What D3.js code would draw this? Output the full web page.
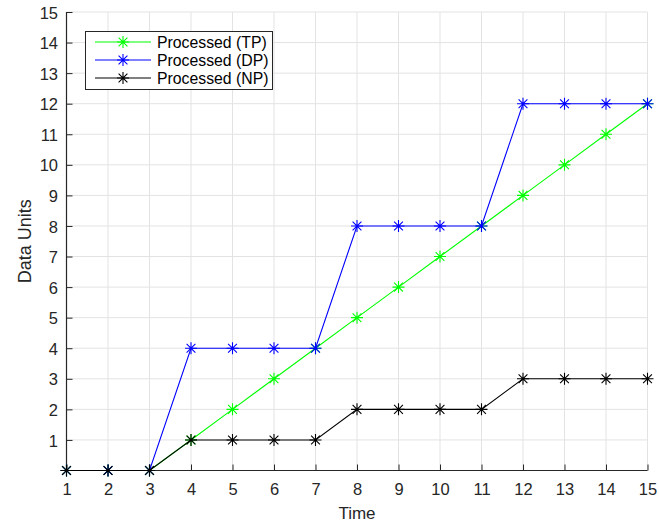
<!DOCTYPE html>
<html><head><meta charset="utf-8">
<script src="https://cdn.jsdelivr.net/npm/d3@7"></script>
<style>body{margin:0;background:#fff}svg{display:block}text{font-family:"Liberation Sans",Arial,sans-serif}</style>
</head><body>
<svg id="c" width="659" height="523"></svg>
<script>
const times = [1,2,3,4,5,6,7,8,9,10,11,12,13,14,15];
const seriesNames = ["Processed (TP)", "Processed (DP)", "Processed (NP)"];
const tpValues = [0,0,0,1,2,3,4,5,6,7,8,9,10,11,12];
const dpValues = [0,0,0,4,4,4,4,8,8,8,8,12,12,12,12];
const npValues = [0,0,0,1,1,1,1,2,2,2,2,3,3,3,3];
const seriesColors = ["#00ff00", "#0000ff", "#000000"];
const xTicks = [1,2,3,4,5,6,7,8,9,10,11,12,13,14,15];
const yTicks = [1,2,3,4,5,6,7,8,9,10,11,12,13,14,15];

const svg = d3.select("#c");
const L = 66.5, R = 647.5, T = 12, B = 470.5;
const x = d3.scaleLinear().domain([1,15]).range([L,R]);
const y = d3.scaleLinear().domain([0,15]).range([B,T]);
const axisCol = "#262626";

// grid
const g = svg.append("g");
g.selectAll(".gx").data(xTicks).enter().append("line")
  .attr("x1", d=>x(d)).attr("x2", d=>x(d)).attr("y1", T).attr("y2", B)
  .attr("stroke", "#e3e3e3").attr("stroke-width", 1);
g.selectAll(".gy").data(yTicks).enter().append("line")
  .attr("y1", d=>y(d)).attr("y2", d=>y(d)).attr("x1", L).attr("x2", R)
  .attr("stroke", "#e3e3e3").attr("stroke-width", 1);

// axes
const xAxis = d3.axisBottom(x).tickValues(xTicks).tickSize(-6).tickPadding(13).tickFormat(d3.format("d"));
const yAxis = d3.axisLeft(y).tickValues(yTicks).tickSize(-6).tickPadding(8.5).tickFormat(d3.format("d"));
const gx = svg.append("g").attr("transform", `translate(0,${B})`).call(xAxis);
const gy = svg.append("g").attr("transform", `translate(${L},0)`).call(yAxis);
[gx, gy].forEach(a => {
  a.select(".domain").attr("stroke", axisCol).attr("stroke-width", 1.2);
  a.selectAll(".tick line").attr("stroke", axisCol).attr("stroke-width", 1);
  a.selectAll(".tick text").attr("fill", axisCol).style("font-size", "16.5px")
   .style("font-family", '"Liberation Sans", Arial, sans-serif');
});
gx.select(".domain").attr("d", `M${L},0H${R}`);
gy.select(".domain").attr("d", `M0,${B}V${T}`);
gy.selectAll(".tick text").attr("dy", "0.37em");

// labels
svg.append("text").attr("x", (L+R)/2).attr("y", 519).attr("text-anchor", "middle")
  .attr("fill", axisCol).style("font-size", "17px").text("Time");
svg.append("text").attr("transform", `translate(31,${(T+B)/2}) rotate(-90)`).attr("text-anchor", "middle")
  .attr("fill", axisCol).style("font-size", "18px").text("Data Units");

// series
const allValues = [tpValues, dpValues, npValues];
const line = d3.line().x((d,i)=>x(times[i])).y(d=>y(d));
function star(sel, cx, cy, col) {
  const r = 6, rd = 4.4;
  const p = `M${cx-r},${cy}H${cx+r}M${cx},${cy-r}V${cy+r}M${cx-rd},${cy-rd}L${cx+rd},${cy+rd}M${cx-rd},${cy+rd}L${cx+rd},${cy-rd}`;
  sel.append("path").attr("d", p).attr("stroke", col).attr("stroke-width", 1.1).attr("fill", "none");
}
allValues.forEach((vals, si) => {
  const sg = svg.append("g");
  sg.append("path").datum(vals).attr("d", line).attr("fill", "none")
    .attr("stroke", seriesColors[si]).attr("stroke-width", 1.1);
  vals.forEach((v,i) => star(sg, x(times[i]), y(v), seriesColors[si]));
});

// legend
const lg = svg.append("g");
lg.append("rect").attr("x", 85.5).attr("y", 31.5).attr("width", 187).attr("height", 58)
  .attr("fill", "#fff").attr("stroke", axisCol).attr("stroke-width", 1);
seriesNames.forEach((n, i) => {
  const yy = 42 + i*18;
  lg.append("line").attr("x1", 95).attr("x2", 151).attr("y1", yy).attr("y2", yy)
    .attr("stroke", seriesColors[i]).attr("stroke-width", 1.1);
  star(lg, 123, yy, seriesColors[i]);
  lg.append("text").attr("x", 157).attr("y", yy).attr("dy", "0.36em")
    .attr("fill", "#000").style("font-size", "15.8px").text(n);
});
</script>
</body></html>
